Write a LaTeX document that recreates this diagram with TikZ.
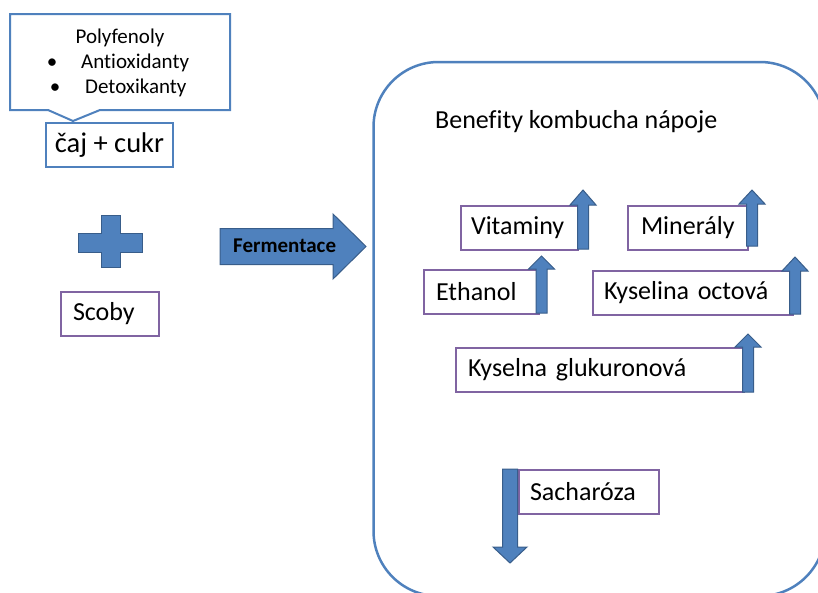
\documentclass[tikz,border=0pt]{standalone}
\usepackage{fontspec}
\setmainfont{Carlito}[Ligatures=NoCommon]

\definecolor{officeblue}{HTML}{4F81BD}
\definecolor{arrowedge}{HTML}{385D8A}
\definecolor{boxpurple}{HTML}{8064A2}

\tikzset{
  txtbox/.style={draw=boxpurple, line width=2pt, fill=white, minimum height=44pt,
    inner ysep=0pt, align=left, font=\fontsize{26}{30}\selectfont},
  bluebox/.style={txtbox, draw=officeblue},
  blockarrow/.style={fill=officeblue, draw=arrowedge, line width=1pt, line join=miter},
  plain/.style={inner sep=0pt, font=\fontsize{26}{30}\selectfont},
  small/.style={inner sep=0pt, font=\fontsize{21}{25}\selectfont},
}

% upward block arrow: centre x, tip y, head base y, foot y
\newcommand{\uparrowbox}[4]{%
  \filldraw[blockarrow] (#1-5.5,#4) -- (#1-5.5,#3) -- (#1-13,#3) -- (#1,#2)
    -- (#1+13,#3) -- (#1+5.5,#3) -- (#1+5.5,#4) -- cycle;}

\begin{document}
\begin{tikzpicture}[x=1pt, y=-1pt]

\useasboundingbox (0,0) rectangle (818,592);
\clip (0,0) rectangle (818,592);

% callout
\filldraw[draw=officeblue, fill=white, line width=2pt, line join=miter]
  (10,14) -- (230,14) -- (230,110) -- (100,110) -- (73,121) -- (48,110) -- (10,110) -- cycle;
\node[small, anchor=base] (poly) at (120,43) {Polyfenoly};
\node[small, anchor=base] (bul1) at (52,68) {\textbullet};
\node[small, anchor=base west] (anti) at (81,68) {Antioxidanty};
\node[small, anchor=base] (bul2) at (55,93) {\textbullet};
\node[small, anchor=base west] (detox) at (85,93) {Detoxikanty};

\node[bluebox, minimum width=127pt, inner xsep=0pt, font=\fontsize{28.5}{32}\selectfont] (tea) at (109.5,145) {čaj + cukr};

% plus
\filldraw[blockarrow] (101,215) -- (120,215) -- (120,233) -- (142,233) -- (142,252)
  -- (120,252) -- (120,267) -- (101,267) -- (101,252) -- (78,252) -- (78,233)
  -- (101,233) -- cycle;

\node[txtbox, anchor=west, inner xsep=12pt, text width=74pt] (scoby) at (60,314) {Scoby};

% fermentation arrow
\filldraw[blockarrow] (220,228.5) -- (333,228.5) -- (333,214) -- (366,246.5)
  -- (333,279) -- (333,264.5) -- (220,264.5) -- cycle;
\node[inner sep=0pt, anchor=base west, font=\bfseries\fontsize{21}{25}\selectfont] (ferm) at (233,252.5) {Fermentace};

% benefits frame
\draw[officeblue, line width=2.5pt, rounded corners=65pt] (373.5,62) rectangle (825,596);
\node[plain, anchor=base west] (title) at (435,128) {Benefity kombucha nápoje};

\node[txtbox, anchor=west, inner xsep=10pt, text width=97pt] (vit) at (460,227.5) {Vitaminy};
\node[txtbox, anchor=west, inner xsep=13pt, text width=94pt] (min) at (627,227.5) {Minerály};
\node[txtbox, anchor=west, inner xsep=12pt, text width=91pt] (eth) at (423,292) {Ethanol};
\node[txtbox, anchor=west, inner xsep=11pt, text width=178pt] (acet) at (592,293) {Kyselina octová};
\node[txtbox, anchor=west, inner xsep=12pt, text width=264pt] (gluc) at (455,370) {Kyselna glukuronová};
\node[txtbox, anchor=west, inner xsep=11pt, text width=118pt] (sach) at (518,491.5) {Sacharóza};

\uparrowbox{583}{190}{205}{249}
\uparrowbox{752}{190}{204}{246}
\uparrowbox{541.5}{256}{269}{313}
\uparrowbox{795}{257}{271}{314}
\uparrowbox{748}{334}{347}{392}

% down arrow
\filldraw[blockarrow] (502.5,469) -- (517.5,469) -- (517.5,547) -- (527,547)
  -- (510,563) -- (493,547) -- (502.5,547) -- cycle;

\end{tikzpicture}
\end{document}
